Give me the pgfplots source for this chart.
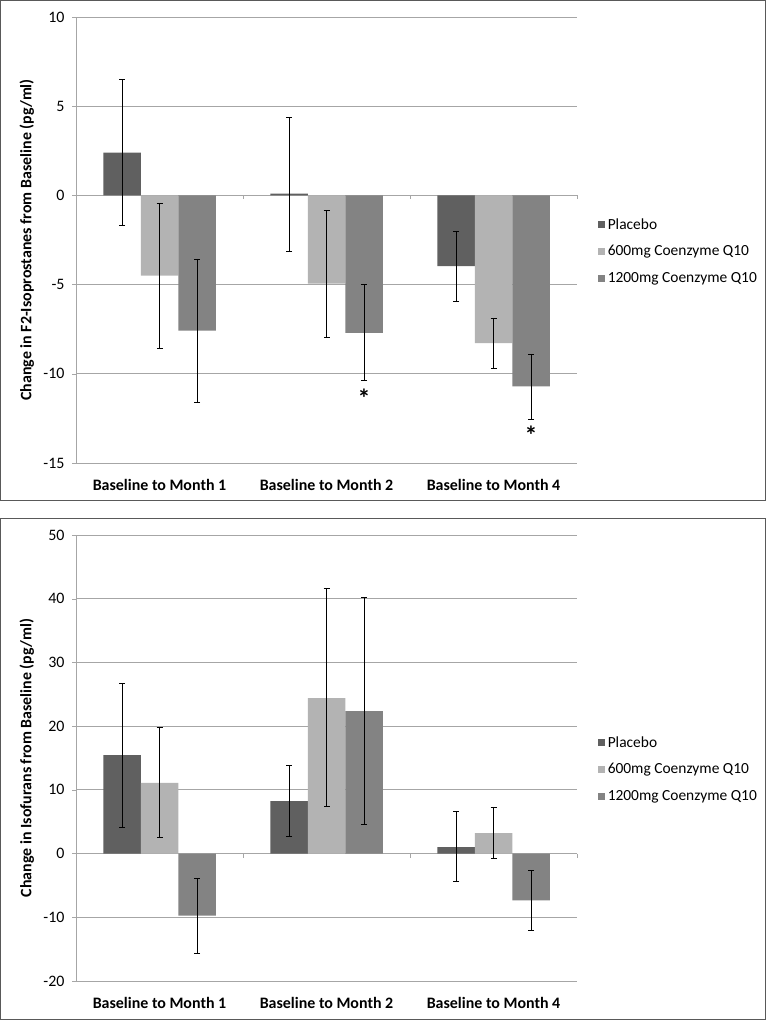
\documentclass[border=0pt]{standalone}
\usepackage{fontspec}
\setmainfont{Carlito}
\usepackage{pgfplots}
\usepackage{pgfplotstable}
\pgfplotsset{compat=1.18}

\definecolor{placebo}{HTML}{606060}
\definecolor{lowdose}{HTML}{B3B3B3}
\definecolor{highdose}{HTML}{838383}
\definecolor{gridgray}{HTML}{A6A6A6}
\definecolor{framegray}{HTML}{595959}

% x, bar value, error plus, error minus for each group
\pgfplotstableread{
x  p      pp    pm    m      mp    mm    h       hp    hm
0  2.40   4.10  4.10  -4.50  4.05  4.05  -7.58   4.02  4.02
1  0.10   4.26  3.21  -4.94  4.08  3.04  -7.70   2.72  2.69
2  -3.97  1.95  1.95  -8.28  1.41  1.40  -10.71  1.83  1.84
}\isodata

\pgfplotstableread{
x  p      pp     pm     m      mp     mm     h      hp     hm
0  15.45  11.30  11.31  11.10  8.74   8.59   -9.74  5.81   5.86
1  8.22   5.65   5.55   24.40  17.20  17.02  22.36  17.84  17.81
2  1.00   5.60   5.40   3.20   4.08   3.99   -7.33  4.66   4.76
}\furdata

\tikzset{zeroline/.style={gridgray, line width=0.8bp}}

\pgfplotsset{
  panel/.style={
    width=501bp, height=446bp, scale only axis,
    anchor=south west,
    xmin=-0.5, xmax=2.5,
    xtick={0,1,2},
    xticklabels={Baseline to Month 1, Baseline to Month 2, Baseline to Month 4},
    xticklabel style={font=\fontsize{16}{18}\selectfont\bfseries, yshift=-9bp},
    x axis line style={draw=none},
    xtick style={draw=none},
    axis y line*=left,
    y axis line style={gridgray},
    ytick style={gridgray},
    tick align=outside,
    major tick length=4bp,
    yticklabel style={font=\fontsize{16}{18}\selectfont, xshift=-4bp},
    /pgf/number format/assume math mode=true,
    ymajorgrids,
    grid style={gridgray, line width=0.8bp},
    ylabel style={font=\fontsize{16}{18}\selectfont\bfseries,
      at={(axis description cs:-0.098,0.5)}, anchor=center},
    ybar=0pt, bar width=37.5bp,
    legend style={draw=none, at={(1.042,0.475)}, anchor=west, inner sep=0pt,
      font=\fontsize{15.5}{17}\selectfont, row sep=11bp,
      nodes={inner xsep=2.5bp}},
    legend cell align=left,
    clip=false,
  },
  errs/.style={error bars/.cd, y dir=both, y explicit,
    error bar style={black, line width=0.6bp},
    error mark options={rotate=90, black, line width=0.6bp, mark size=3bp}},
  sq/.style={legend image code/.code={\fill[##1] (0bp,-3.5bp) rectangle (7bp,3.5bp);}},
}

\begin{document}
\begin{tikzpicture}[x=1bp,y=1bp]
\useasboundingbox (0,0) rectangle (766,1020);
\draw[framegray, line width=1bp] (0.7,519) rectangle (765.3,1019.3);
\draw[framegray, line width=1bp] (0.7,0.7) rectangle (765.3,501.3);

\begin{axis}[panel, at={(76bp,557bp)},
  ymin=-15, ymax=10, ytick={-15,-10,-5,0,5,10},
  ylabel={Change in F2-Isoprostanes from Baseline (pg/ml)}]
\draw[zeroline] (axis cs:-0.5,0) -- (axis cs:2.5,0);
\draw[zeroline] (axis cs:0.5,0) -- ([yshift=-4bp]axis cs:0.5,0);
\draw[zeroline] (axis cs:1.5,0) -- ([yshift=-4bp]axis cs:1.5,0);
\draw[zeroline] (axis cs:2.5,0) -- ([yshift=-4bp]axis cs:2.5,0);
\addplot[fill=placebo, draw=none, sq, errs] table[x=x, y=p, y error plus=pp, y error minus=pm] {\isodata};
\addplot[fill=lowdose, draw=none, sq, errs] table[x=x, y=m, y error plus=mp, y error minus=mm] {\isodata};
\addplot[fill=highdose, draw=none, sq, errs] table[x=x, y=h, y error plus=hp, y error minus=hm] {\isodata};
\legend{Placebo, 600mg Coenzyme Q10, 1200mg Coenzyme Q10}
\node[font=\fontsize{26}{26}\selectfont\bfseries] at ([xshift=37.5bp, yshift=-6bp]axis cs:1,-11.05) {*};
\node[font=\fontsize{26}{26}\selectfont\bfseries] at ([xshift=37.5bp, yshift=-6bp]axis cs:2,-13.1) {*};
\end{axis}

\begin{axis}[panel, at={(76bp,39bp)},
  ymin=-20, ymax=50, ytick={-20,-10,0,10,20,30,40,50},
  ylabel={Change in Isofurans from Baseline (pg/ml)}]
\draw[zeroline] (axis cs:-0.5,0) -- (axis cs:2.5,0);
\draw[zeroline] (axis cs:0.5,0) -- ([yshift=-4bp]axis cs:0.5,0);
\draw[zeroline] (axis cs:1.5,0) -- ([yshift=-4bp]axis cs:1.5,0);
\draw[zeroline] (axis cs:2.5,0) -- ([yshift=-4bp]axis cs:2.5,0);
\addplot[fill=placebo, draw=none, sq, errs] table[x=x, y=p, y error plus=pp, y error minus=pm] {\furdata};
\addplot[fill=lowdose, draw=none, sq, errs] table[x=x, y=m, y error plus=mp, y error minus=mm] {\furdata};
\addplot[fill=highdose, draw=none, sq, errs] table[x=x, y=h, y error plus=hp, y error minus=hm] {\furdata};
\legend{Placebo, 600mg Coenzyme Q10, 1200mg Coenzyme Q10}
\end{axis}
\end{tikzpicture}
\end{document}
